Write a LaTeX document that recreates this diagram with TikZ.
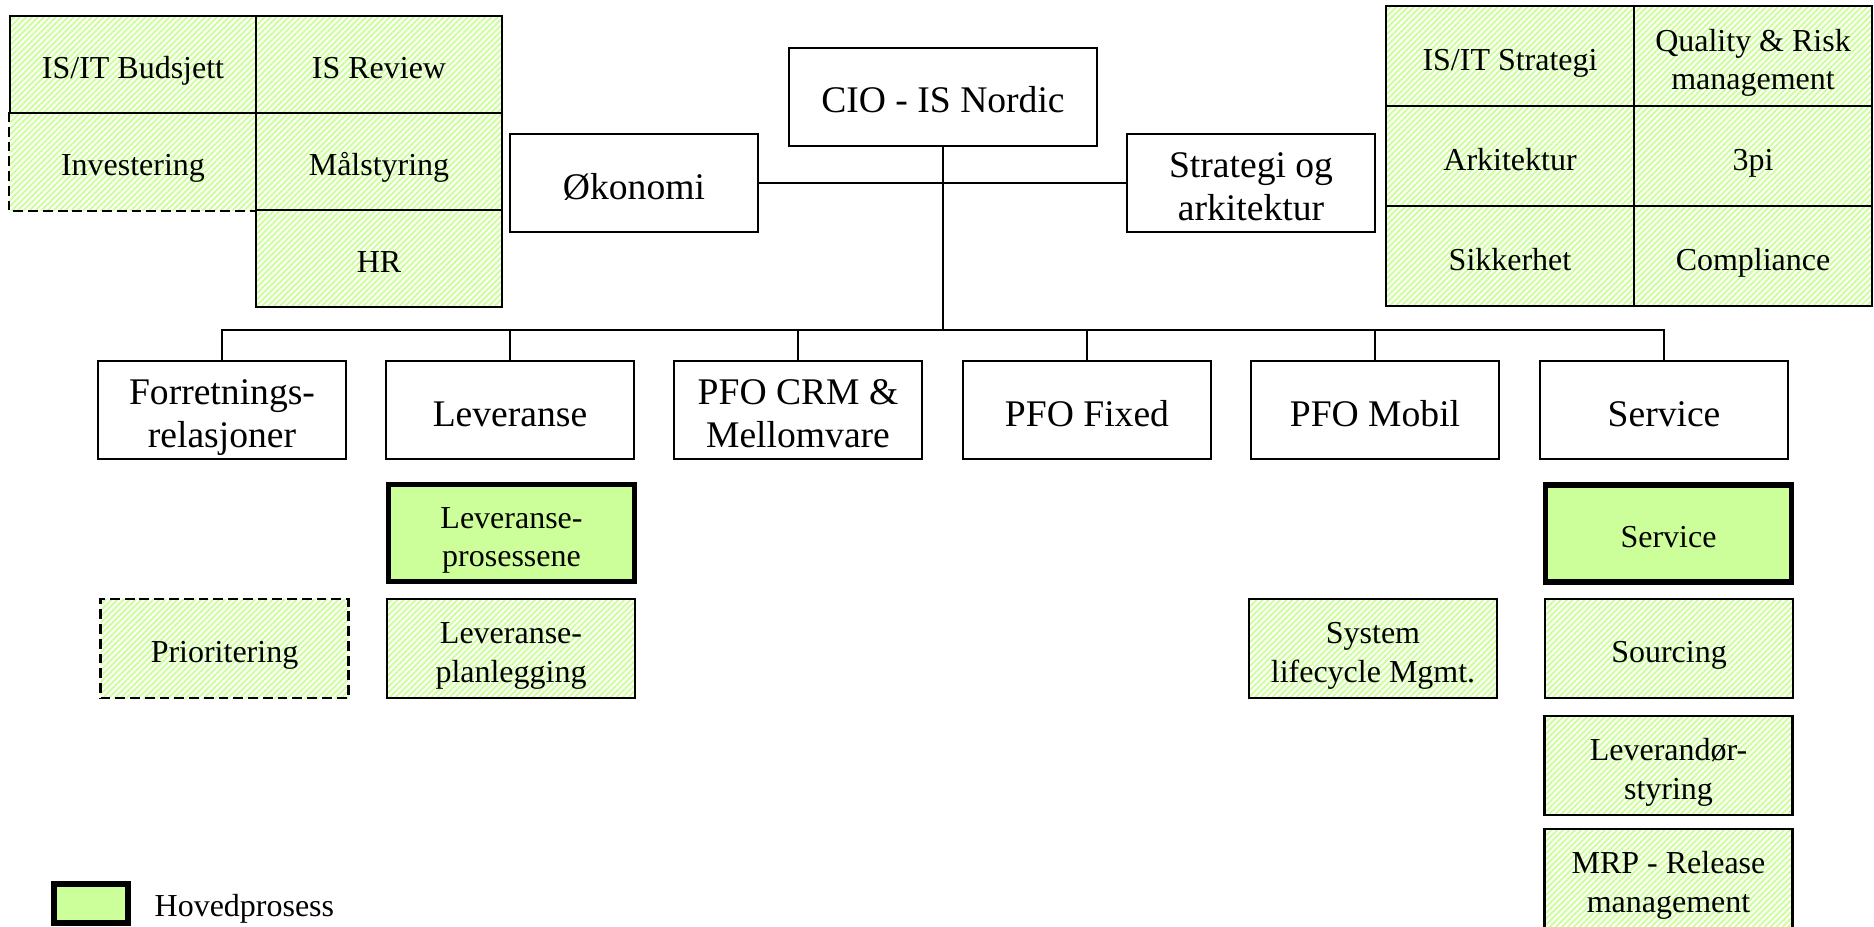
\documentclass[tikz,border=0pt]{standalone}
\usepackage{fontspec}
\setmainfont{Liberation Serif}
\usetikzlibrary{patterns.meta}
\definecolor{lysgronn}{RGB}{204,255,153}

\begin{document}
\begin{tikzpicture}
	\tikzstyle{boks}=[draw, line width=0.6pt, inner sep=0pt, align=center, minimum width=2.48cm, minimum height=0.98cm, text height=9.1pt, text depth=0pt, font=\fontsize{10.7}{12.5}\selectfont]
	\tikzstyle{stripe}=[draw, line width=0.6pt, inner sep=0pt, align=center, minimum width=2.48cm, minimum height=0.99cm, text height=8.2pt, text depth=0pt, font=\fontsize{9.1}{11}\selectfont, pattern={Lines[angle=45,distance=1.2pt,line width=0.55pt]}, pattern color=lysgronn]
	\tikzstyle{celle}=[stripe, minimum width=2.46cm, minimum height=0.97cm]
	\tikzstyle{hoved}=[draw, line width=1.45pt, fill=lysgronn, inner sep=0pt, align=center, minimum width=2.46cm, minimum height=0.97cm, text height=8.2pt, text depth=0pt, font=\fontsize{9.1}{11}\selectfont]
	\tikzstyle{dobbel}=[text height=19.2pt]
	\tikzstyle{dobbelstor}=[text height=21.6pt]
	\tikzstyle{stiplet}=[dash pattern=on 2.8pt off 1.4pt]
	\tikzstyle{linje}=[line width=0.6pt]
	\useasboundingbox (0,0) rectangle (18.74,-9.26);

	% venstre tabell
	\node[celle, draw=none] (invest) at (1.33,-1.615) {Investering};
	\node[celle] (budsjett) at (1.33,-0.645) {IS/IT Budsjett};
	\node[celle] (review) at (3.79,-0.645) {IS Review};
	\node[celle] (malstyring) at (3.79,-1.615) {Målstyring};
	\node[celle] (hr) at (3.79,-2.585) {HR};
	\draw[linje, stiplet] (invest.north west) -- (invest.south west) -- (invest.south east);

	% hoyre tabell
	\node[celle, minimum width=2.48cm, minimum height=1cm] (isstrategi) at (15.10,-0.56) {IS/IT Strategi};
	\node[celle, dobbel, minimum width=2.38cm, minimum height=1cm] (quality) at (17.53,-0.56) {Quality \& Risk\\management};
	\node[celle, minimum width=2.48cm, minimum height=1cm] (arkitektur) at (15.10,-1.56) {Arkitektur};
	\node[celle, minimum width=2.38cm, minimum height=1cm] (pi) at (17.53,-1.56) {3pi};
	\node[celle, minimum width=2.48cm, minimum height=1cm] (sikkerhet) at (15.10,-2.56) {Sikkerhet};
	\node[celle, minimum width=2.38cm, minimum height=1cm] (compliance) at (17.53,-2.56) {Compliance};

	\node[boks] (okonomi) at (6.34,-1.83) {Økonomi};
	\node[boks, minimum width=3.08cm] (cio) at (9.43,-0.97) {CIO - IS Nordic};
	\node[boks, dobbelstor] (strategi) at (12.51,-1.83) {Strategi og\\arkitektur};

	\node[boks, dobbelstor] (forretning) at (2.22,-4.10) {Forretnings-\\relasjoner};
	\node[boks] (leveranse) at (5.10,-4.10) {Leveranse};
	\node[boks, dobbelstor] (crm) at (7.98,-4.10) {PFO CRM \&\\Mellomvare};
	\node[boks] (fixed) at (10.87,-4.10) {PFO Fixed};
	\node[boks] (mobil) at (13.75,-4.10) {PFO Mobil};
	\node[boks] (service) at (16.64,-4.10) {Service};

	\coordinate (buss) at (9.43,-3.30);
	\draw[linje] (okonomi) -- (strategi);
	\draw[linje] (cio) -- (buss);
	\foreach \n in {forretning,leveranse,crm,fixed,mobil,service}
		\draw[linje] (\n.north) |- (buss);

	\node[hoved, dobbel] (levprosess) at (5.115,-5.33) {Leveranse-\\prosessene};
	\node[hoved] (servhoved) at (16.685,-5.335) {Service};

	\node[stripe, stiplet] (prioritering) at (2.245,-6.485) {Prioritering};
	\node[stripe, dobbel] (levplan) at (5.11,-6.485) {Leveranse-\\planlegging};
	\node[stripe, dobbel] (lifecycle) at (13.73,-6.485) {System\\lifecycle Mgmt.};
	\node[stripe] (sourcing) at (16.69,-6.485) {Sourcing};
	\node[stripe, dobbel] (levstyring) at (16.685,-7.655) {Leverandør-\\styring};
	\node[stripe, dobbel] (mrp) at (16.685,-8.785) {MRP - Release\\management};

	% forklaring
	\node[hoved, line width=1.7pt, minimum width=0.74cm, minimum height=0.39cm] (tegn) at (0.91,-9.035) {};
	\node[anchor=west, inner sep=0pt, font=\fontsize{9.1}{11}\selectfont] (tegntekst) at (1.54,-9.085) {Hovedprosess};
\end{tikzpicture}
\end{document}
